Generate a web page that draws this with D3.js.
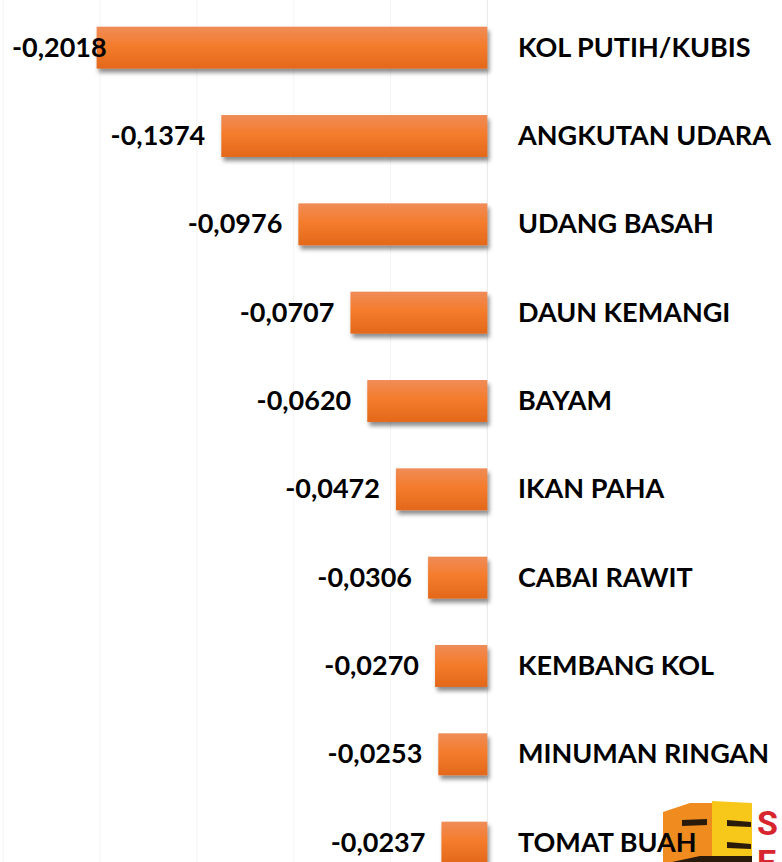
<!DOCTYPE html>
<html>
<head>
<meta charset="utf-8">
<script src="https://cdn.jsdelivr.net/npm/d3@7"></script>
<style>
  html, body { margin: 0; padding: 0; background: #fff; overflow: hidden; }
  svg { display: block; }
  .lbl { font-family: Lato, "Open Sans", sans-serif; font-weight: 700; font-size: 27px; fill: #000; }
</style>
</head>
<body>
<svg id="chart" width="782" height="862"></svg>
<script>
// Commodities with the largest negative contribution
const categories = [
  "KOL PUTIH/KUBIS", "ANGKUTAN UDARA", "UDANG BASAH", "DAUN KEMANGI", "BAYAM",
  "IKAN PAHA", "CABAI RAWIT", "KEMBANG KOL", "MINUMAN RINGAN", "TOMAT BUAH"
];
const values = [
  -0.2018, -0.1374, -0.0976, -0.0707, -0.0620,
  -0.0472, -0.0306, -0.0270, -0.0253, -0.0237
];
const gridTicks = [-0.25, -0.2, -0.15, -0.1, -0.05, 0];

const W = 782, H = 862;
const svg = d3.select("#chart");

const x = d3.scaleLinear().domain([-0.25, 0]).range([3.3, 487.3]);
const y = d3.scaleBand().domain(categories).range([3.5, 886.8])
  .paddingInner(0.525).paddingOuter(0.2625);

// Indonesian number style: comma as decimal separator, plain hyphen for minus
const idFmt = d3.formatLocale({
  decimal: ",", thousands: ".", grouping: [3], currency: ["Rp", ""], minus: "-"
}).format(".4f");

// defs: bar gradient + drop shadow
const defs = svg.append("defs");
const grad = defs.append("linearGradient").attr("id", "barGrad")
  .attr("x1", 0).attr("y1", 0).attr("x2", 0).attr("y2", 1);
grad.append("stop").attr("offset", "0%").attr("stop-color", "#f08c58");
grad.append("stop").attr("offset", "45%").attr("stop-color", "#f47c2c");
grad.append("stop").attr("offset", "100%").attr("stop-color", "#e3681b");

const shadow = defs.append("filter").attr("id", "shadow")
  .attr("x", "-10%").attr("y", "-20%").attr("width", "130%").attr("height", "160%");
shadow.append("feDropShadow").attr("dx", 2).attr("dy", 4)
  .attr("stdDeviation", 2.2).attr("flood-color", "#000").attr("flood-opacity", 0.45);

// faint vertical gridlines
svg.append("g").selectAll("line").data(gridTicks).join("line")
  .attr("x1", d => x(d)).attr("x2", d => x(d))
  .attr("y1", 0).attr("y2", H)
  .attr("stroke", d => d === 0 ? "#e8e8e8" : "#f4f4f4").attr("stroke-width", 1);

// logo in the lower right corner
const logo = svg.append("g").attr("class", "logo");
logo.append("path").attr("d", "M663,812 L690,803 L712,803 L712,862 L663,862 Z").attr("fill", "#ef8b1f");
logo.append("path").attr("d", "M712,801 L752,803 L752,862 L712,862 Z").attr("fill", "#f7c81a");
logo.append("path").attr("d", "M682,820 L707,819 L707,825 L682,826 Z").attr("fill", "#2a1a0a");
logo.append("path").attr("d", "M727,820 L751,822 L751,827 L727,826 Z").attr("fill", "#2a1a0a");
logo.append("path").attr("d", "M727,842 L751,844 L751,849 L727,848 Z").attr("fill", "#2a1a0a");
logo.append("path").attr("d", "M672,862 L700,856 L752,856 L752,862 Z").attr("fill", "#2a1a0a");
logo.append("text").attr("x", 757).attr("y", 835)
  .attr("font-family", "Roboto, sans-serif").attr("font-weight", 700).attr("font-size", 34)
  .attr("fill", "#d8262f").text("S");
logo.append("text").attr("x", 757).attr("y", 874)
  .attr("font-family", "Roboto, sans-serif").attr("font-weight", 700).attr("font-size", 34)
  .attr("fill", "#d8262f").text("E");

// bars
svg.append("g").selectAll("rect").data(values).join("rect")
  .attr("x", d => x(d))
  .attr("y", (d, i) => y(categories[i]))
  .attr("width", d => x(0) - x(d))
  .attr("height", y.bandwidth())
  .attr("fill", "url(#barGrad)")
  .attr("filter", "url(#shadow)");

// value labels, left of each bar, clamped at the left edge
const vals = svg.append("g").selectAll("text").data(values).join("text")
  .attr("class", "lbl")
  .attr("y", (d, i) => y(categories[i]) + y.bandwidth() / 2 + 9)
  .text(d => idFmt(d));
vals.each(function(d) {
  const w = this.getComputedTextLength();
  let left = x(d) - 16 - w;
  if (left < 12) left = 12;
  d3.select(this).attr("x", left);
});

// category labels right of the zero line
svg.append("g").selectAll("text").data(categories).join("text")
  .attr("class", "lbl")
  .attr("x", 518)
  .attr("y", d => y(d) + y.bandwidth() / 2 + 9)
  .text(d => d);
</script>
</body>
</html>
